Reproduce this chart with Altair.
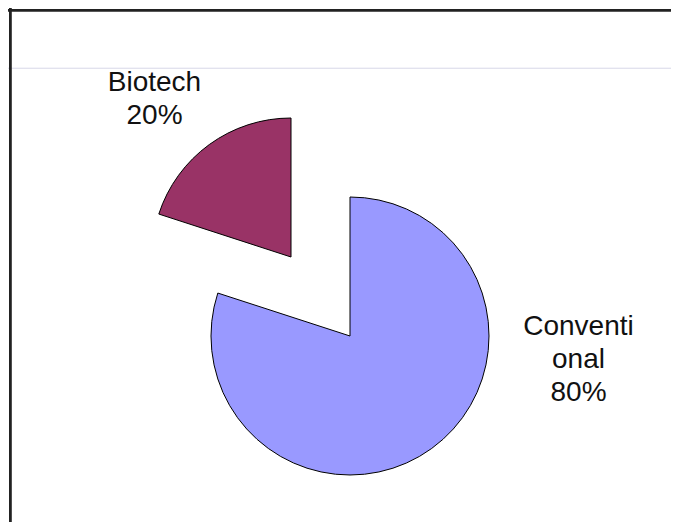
import altair as alt
import pandas as pd

# ---- data ----
categories = ["Conventional", "Biotech"]
label_lines = ["Conventi\nonal", "Biotech"]
values = [80, 20]

df = pd.DataFrame({"category": categories, "label": label_lines, "value": values})
df["start"] = df["value"].cumsum() - df["value"]
df["end"] = df["value"].cumsum()

W, H = 663, 514
base = alt.Chart(df)
theta_scale = alt.Scale(domain=[0, 100], range=[0, 6.283185307179586])
color_scale = alt.Scale(domain=categories, range=["#9999FF", "#993366"])


def slice_layer(cat, cx, cy):
    return base.transform_filter(alt.datum.category == cat).mark_arc(
        radius=139, stroke="black", strokeWidth=1
    ).encode(
        theta=alt.Theta("start:Q", scale=theta_scale, stack=None),
        theta2="end:Q",
        color=alt.Color("category:N", scale=color_scale, legend=None),
        x=alt.value(cx),
        y=alt.value(cy),
    )


def label_layer(cat, tx, ty):
    return base.transform_filter(alt.datum.category == cat).transform_calculate(
        txt=alt.datum.label + "\n" + alt.datum.value + "%"
    ).mark_text(
        lineBreak="\n", font="Liberation Sans", fontSize=28, lineHeight=33,
        align="center", baseline="alphabetic", color="#111111"
    ).encode(
        text="txt:N",
        x=alt.value(tx),
        y=alt.value(ty),
    )


top_rule = base.mark_rule(color="#222222", strokeWidth=2.5).encode(
    x=alt.value(0), x2=alt.value(W), y=alt.value(2.3)
)
left_rule = base.mark_rule(color="#222222", strokeWidth=2.5).encode(
    x=alt.value(2.3), y=alt.value(0), y2=alt.value(H)
)
faint_rule = base.mark_rule(color="#e2e2ee", strokeWidth=1).encode(
    x=alt.value(0), x2=alt.value(W), y=alt.value(60.3)
)

chart = alt.layer(
    faint_rule,
    top_rule,
    left_rule,
    slice_layer("Conventional", 342, 328),
    slice_layer("Biotech", 283, 249),
    label_layer("Conventional", 570.5, 327),
    label_layer("Biotech", 146.5, 83),
).properties(
    width=W, height=H, padding=0, autosize="none"
).configure_view(stroke=None)

chart.save("out.html", embed_options={"renderer": "svg", "actions": False})
